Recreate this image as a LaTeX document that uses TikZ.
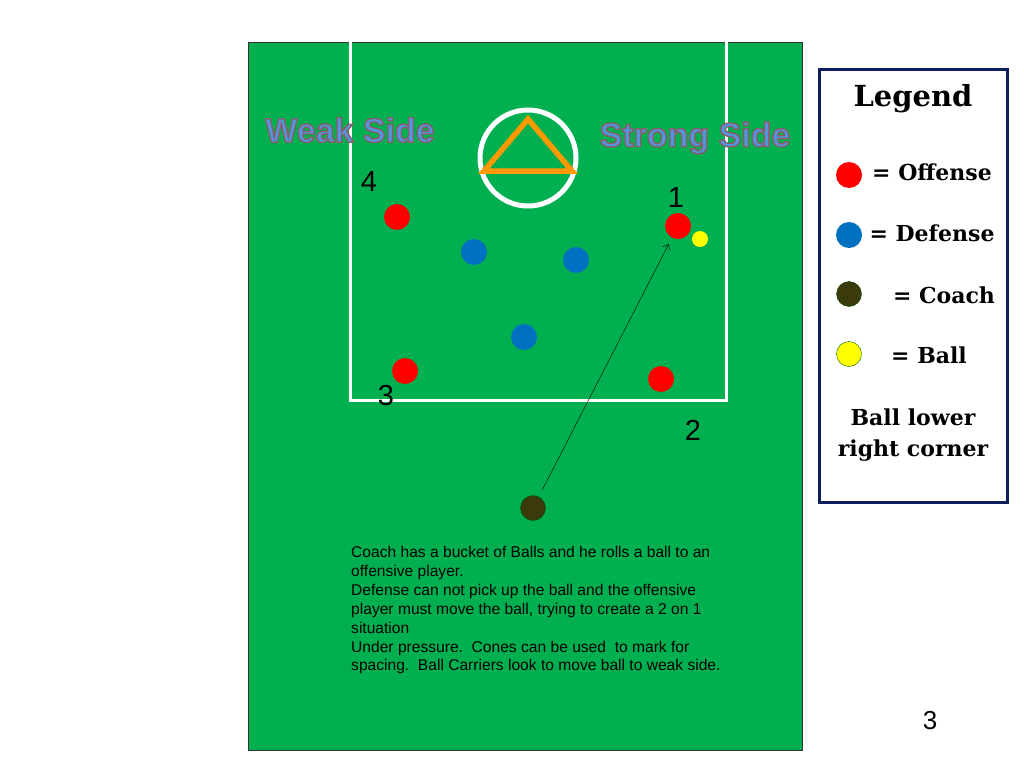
\documentclass[tikz,border=0pt]{standalone}
\usepackage{fontspec}
\setmainfont{Liberation Sans}
\newfontfamily\legendfont{DejaVu Serif}
\usetikzlibrary{arrows.meta,positioning}
\definecolor{FieldGreen}{HTML}{00B050}
\definecolor{ConeOrange}{HTML}{FF9900}
\definecolor{OffRed}{HTML}{FF0000}
\definecolor{DefBlue}{HTML}{0070C0}
\definecolor{CoachBrown}{HTML}{3B3A0C}
\definecolor{BallYellow}{HTML}{FFFF00}
\definecolor{LegendNavy}{HTML}{0F1F5C}
\definecolor{SideBlue}{HTML}{5394DC}

% blue letters with a brownish outline
\newcommand{\sidelabel}[1]{\special{pdf:literal direct 2 Tr 1.3 w 0.55 0.36 0.40 RG}#1\special{pdf:literal direct 0 Tr}}

\tikzset{
  offense/.style={circle, fill=OffRed, minimum size=26pt, inner sep=0pt},
  defense/.style={circle, fill=DefBlue, minimum size=26pt, inner sep=0pt},
  coach/.style={circle, fill=CoachBrown, draw=black!70!green, minimum size=25pt, inner sep=0pt},
  ball/.style={circle, fill=BallYellow, minimum size=16pt, inner sep=0pt},
  number/.style={font=\fontsize{29}{29}\selectfont, inner sep=0pt},
  sidetext/.style={text=SideBlue, font=\bfseries\fontsize{34}{34}\selectfont, inner sep=0pt},
  legendtext/.style={font=\legendfont\bfseries\fontsize{22}{31}\selectfont, align=center, inner sep=0pt},
  courtline/.style={white, line width=3pt}
}

\begin{document}
\begin{tikzpicture}[x=1pt, y=-1pt, >=Latex]
  \useasboundingbox (0,0) rectangle (1024,768);
  % field
  \draw[fill=FieldGreen, draw=black!80, line width=0.8pt] (248,42) rectangle (802,750);
  \draw[courtline] (350,42) -- (350,400) -- (726,400) -- (726,42);
  \draw[white, line width=5pt] (528,158) circle (48);
  \draw[ConeOrange, line width=5.5pt, line join=miter] (528,119) -- (572,171) -- (484,171) -- cycle;

  % side labels
  \node[sidetext] (weak) at (350,130) {\sidelabel{Weak Side}};
  \node[sidetext] (strong) at (695,138) {\sidelabel{Strong Side}};

  % players
  \node[offense] (p4) at (397,217) {};
  \node[offense] (p1) at (678,226) {};
  \node[offense] (p3) at (405,371) {};
  \node[offense] (p2) at (661,379) {};
  \node[defense] (d1) at (474,252) {};
  \node[defense] (d2) at (576,260) {};
  \node[defense] (d3) at (524,337) {};
  \node[ball] (ball) at (700,239) {};
  \node[coach] (coach) at (533,508) {};

  \node[number] (n4) at (369,182) {4};
  \node[number] (n1) at (676,198) {1};
  \node[number] (n3) at (386,396) {3};
  \node[number] (n2) at (693,430) {2};

  % roll of the ball
  \draw[-{Straight Barb[length=5pt,width=8pt]}, thin, shorten <=8pt, shorten >=7pt] (coach) -- (p1);

  % drill text
  \node[anchor=north west, align=left, inner sep=0pt, font=\fontsize{15.6}{18.9}\selectfont] (drill) at (351,546) {Coach has a bucket of Balls and he rolls a ball to an\\
offensive player.\\
Defense can not pick up the ball and the offensive\\
player must move the ball, trying to create a 2 on 1\\
situation\\
Under pressure.\ \ Cones can be used\ \ to mark for\\
spacing.\ \ Ball Carriers look to move ball to weak side.};

  % legend
  \draw[LegendNavy, line width=3pt, fill=white] (819,69) rectangle (1007,502);
  \node[legendtext, font=\legendfont\bfseries\fontsize{29}{29}\selectfont] (legend) at (913,99) {Legend};
  \node[offense] (loff) at (849,175) {};
  \node[defense] (ldef) at (849,235) {};
  \node[coach] (lcoach) at (849,294) {};
  \node[ball, draw=black!60!green, minimum size=25pt] (lball) at (849,354) {};
  \node[legendtext] (toff) at (932,172) {= Offense};
  \node[legendtext] (tdef) at (932,233) {= Defense};
  \node[legendtext] (tcoach) at (944,295) {= Coach};
  \node[legendtext] (tball) at (929,355) {= Ball};
  \node[legendtext] (corner) at (913,435) {Ball lower\\right corner};

  % page number
  \node[font=\fontsize{26}{26}\selectfont, inner sep=0pt] (page) at (930,721) {3};
\end{tikzpicture}
\end{document}
